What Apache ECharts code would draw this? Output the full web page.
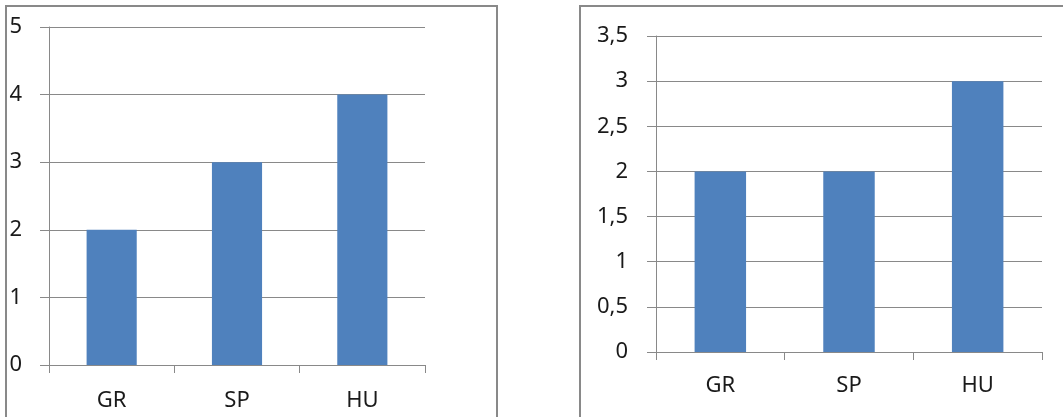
<!DOCTYPE html>
<html>
<head>
<meta charset="utf-8">
<script src="https://cdn.jsdelivr.net/npm/echarts@6/dist/echarts.min.js"></script>
<style>
  html, body { margin: 0; padding: 0; background: #ffffff; }
  #chart { width: 1063px; height: 417px; }
</style>
</head>
<body>
<div id="chart"></div>
<script>
// Country codes shared by both panels
const categories = ['GR', 'SP', 'HU'];
// Left panel values
const leftValues = [2, 3, 4];
// Right panel values
const rightValues = [2, 2, 3];

const BAR = '#4F81BD';
const GRID = '#898989';
const TEXT = '#1a1a1a';
const FONT = 'Noto Sans';

const chart = echarts.init(document.getElementById('chart'), null, { renderer: 'canvas' });

function xAxisFor(gridIndex, margin) {
  return {
    type: 'category',
    gridIndex: gridIndex,
    data: categories,
    boundaryGap: true,
    axisLine: { show: true, lineStyle: { color: GRID, width: 1 } },
    axisTick: { show: true, length: 8, alignWithLabel: false, lineStyle: { color: GRID } },
    axisLabel: { color: TEXT, fontFamily: FONT, fontSize: 22, margin: margin },
    splitLine: { show: false }
  };
}

function yAxisFor(gridIndex, max, interval, margin, fmt) {
  return {
    type: 'value',
    gridIndex: gridIndex,
    min: 0,
    max: max,
    interval: interval,
    axisLine: { show: true, lineStyle: { color: GRID, width: 1 } },
    axisTick: { show: true, length: 9, lineStyle: { color: GRID } },
    axisLabel: { color: TEXT, fontFamily: FONT, fontSize: 22, margin: margin, formatter: fmt },
    splitLine: { show: true, lineStyle: { color: GRID, width: 1 } }
  };
}

const decimalComma = v => String(v).replace('.', ',');

chart.setOption({
  animation: false,
  backgroundColor: '#ffffff',
  grid: [
    { left: 49, top: 27, right: 638, bottom: 52 },
    { left: 656, top: 36, right: 21, bottom: 65 }
  ],
  xAxis: [xAxisFor(0, 25), xAxisFor(1, 23)],
  yAxis: [
    yAxisFor(0, 5, 1, 27, v => String(v)),
    yAxisFor(1, 3.5, 0.5, 28, decimalComma)
  ],
  series: [
    {
      type: 'bar', xAxisIndex: 0, yAxisIndex: 0, data: leftValues,
      barCategoryGap: '60%', itemStyle: { color: BAR }
    },
    {
      type: 'bar', xAxisIndex: 1, yAxisIndex: 1, data: rightValues,
      barCategoryGap: '60%', itemStyle: { color: BAR }
    }
  ],
  graphic: [
    // chart-area frames around each panel
    { type: 'rect', shape: { x: 6, y: 6, width: 491, height: 430 },
      style: { fill: null, stroke: GRID, lineWidth: 2 }, z: 10 },
    { type: 'rect', shape: { x: 580, y: 6, width: 500, height: 430 },
      style: { fill: null, stroke: GRID, lineWidth: 2 }, z: 10 }
  ]
});
</script>
</body>
</html>
